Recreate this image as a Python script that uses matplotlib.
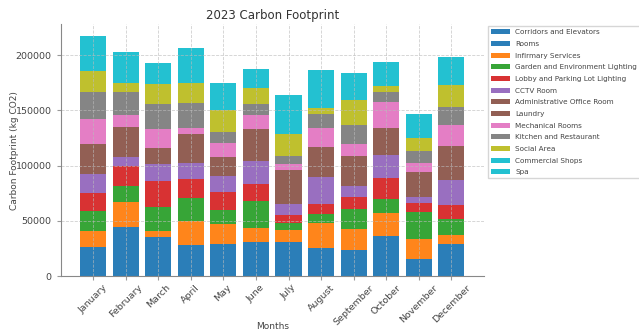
import matplotlib.pyplot as plt
import numpy as np

months = ["January", "February", "March", "April", "May", "June", "July",
          "August", "September", "October", "November", "December"]

categories = ["Corridors and Elevators", "Rooms", "Infirmary Services",
              "Garden and Environment Lighting", "Lobby and Parking Lot Lighting",
              "CCTV Room", "Administrative Office Room", "Laundry",
              "Mechanical Rooms", "Kitchen and Restaurant", "Social Area",
              "Commercial Shops", "Spa"]

corridors = [14800, 25600, 19200, 15900, 16300, 17500, 18100, 14200, 13400, 20600, 8900, 16700]
rooms = [11400, 18700, 15800, 11900, 12400, 13300, 12900, 11400, 10400, 15600, 6800, 12500]
infirmary = [14300, 22900, 6000, 22000, 18100, 12900, 10600, 22100, 18500, 20800, 18100, 7900]
garden = [18600, 14300, 21700, 20800, 13200, 23900, 6600, 8400, 18100, 12400, 24100, 14200]
lobby = [16000, 18300, 23600, 17500, 16300, 15700, 7300, 9100, 10800, 19300, 7900, 13000]
cctv = [17200, 8200, 14800, 14400, 14200, 21000, 9700, 24400, 10300, 21100, 6000, 22600]
admin = [15100, 14800, 8200, 14600, 9700, 16100, 17200, 15000, 15300, 13100, 12400, 17300]
laundry = [12100, 12300, 6800, 11700, 7800, 12900, 13500, 12400, 11800, 10800, 9900, 13700]
mechanical = [22300, 10600, 16900, 5100, 12400, 12400, 5500, 16900, 10900, 23800, 8200, 19000]
kitchen = [24400, 21100, 22700, 22900, 9600, 10200, 7200, 12700, 16900, 8700, 10600, 15800]
social = [19600, 8100, 18300, 17600, 20000, 14200, 19600, 5400, 22900, 5800, 12000, 19900]
commercial = [17600, 15200, 10300, 17900, 13800, 9400, 19800, 19100, 13300, 12200, 11800, 14000]
spa = [13800, 12400, 8200, 14300, 11100, 7600, 16100, 15300, 10800, 9700, 9600, 11300]

series = [corridors, rooms, infirmary, garden, lobby, cctv, admin, laundry,
          mechanical, kitchen, social, commercial, spa]


def main():
    fig = plt.figure(figsize=(6.39, 3.35), dpi=100)
    ax = fig.add_axes([0.095, 0.176, 0.662, 0.752])
    colors = plt.cm.tab10(np.linspace(0, 1, len(categories)))

    x = np.arange(len(months))
    bottom = np.zeros(len(months))
    for name, vals, col in zip(categories, series, colors):
        ax.bar(x, vals, 0.8, bottom=bottom, label=name, color=col, alpha=0.95)
        bottom += np.array(vals)

    ax.set_xticks(x)
    ax.set_xticklabels(months, rotation=45, ha="center", fontsize=6.8, color="#444444")
    ax.tick_params(axis="y", labelsize=6.8, labelcolor="#444444", color="#999999", length=3)
    ax.tick_params(axis="x", color="#999999", length=3, pad=2)
    ax.grid(True, linestyle="--", color="#bbbbbb", linewidth=0.6, alpha=0.7)
    for s in ["top", "right"]:
        ax.spines[s].set_visible(False)
    for s in ["left", "bottom"]:
        ax.spines[s].set_color("#888888")

    ax.set_xlabel("Months", fontsize=6.5, color="#444444", va="center")
    ax.xaxis.set_label_coords(0.5, -0.2)
    ax.set_ylabel("Carbon Footprint (kg CO2)", fontsize=6.5, color="#444444", va="center")
    ax.yaxis.set_label_coords(-0.11, 0.5)
    ax.set_title("2023 Carbon Footprint", fontsize=8.5, color="#333333", pad=4)

    leg = ax.legend(loc="upper left", bbox_to_anchor=(1.005, 1.0), fontsize=5.2,
                    labelspacing=0.78, handlelength=2.6, borderaxespad=0.3,
                    frameon=True, fancybox=False)
    for t in leg.get_texts():
        t.set_color("#444444")
    leg.get_frame().set_edgecolor("#cccccc")

    fig.savefig("out.png", dpi=100)


if __name__ == "__main__":
    main()
